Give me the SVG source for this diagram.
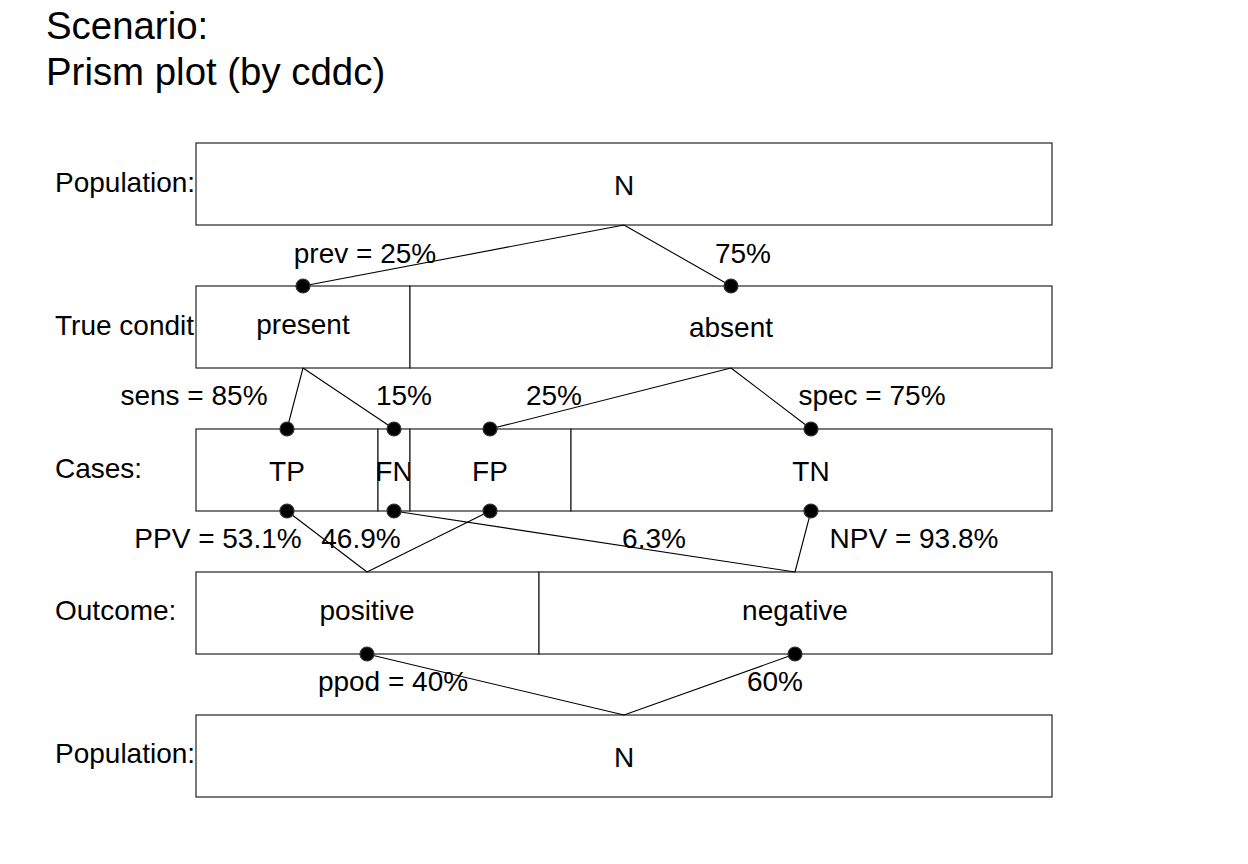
<svg xmlns="http://www.w3.org/2000/svg" width="1248" height="864" viewBox="0 0 1248 864">
<style>
text{font-family:"Liberation Sans",Arial,Helvetica,sans-serif;fill:#000}
.t{font-size:38.4px}
.l{font-size:28px}
.c{text-anchor:middle}
.box{fill:#fff;stroke:#222;stroke-width:1.2}
.ln{stroke:#000;stroke-width:1.1;fill:none}
.dot{fill:#000;stroke:#333;stroke-width:1.2}
</style>
<rect width="1248" height="864" fill="#fff"/>
<g id="title">
<text class="t" x="46" y="39">Scenario:</text>
<text class="t" x="46" y="85">Prism plot (by cddc)</text>
</g>
<g id="row-labels">
<text class="l" x="55" y="192">Population:</text>
<text class="l" x="55" y="335">True condit</text>
<text class="l" x="55" y="478">Cases:</text>
<text class="l" x="55" y="620">Outcome:</text>
<text class="l" x="55" y="763">Population:</text>
</g>
<g id="population-top">
<rect class="box" x="196" y="143" width="856" height="82"/>
<text class="l c" x="624" y="195">N</text>
</g>
<g id="present">
<rect class="box" x="196" y="286" width="214" height="82"/>
<text class="l c" x="303" y="334">present</text>
</g>
<g id="absent">
<rect class="box" x="410" y="286" width="642" height="82"/>
<text class="l c" x="731" y="337">absent</text>
</g>
<g id="TP">
<rect class="box" x="196" y="429" width="182" height="82"/>
<text class="l c" x="287" y="481">TP</text>
</g>
<g id="FN">
<rect class="box" x="378" y="429" width="32" height="82"/>
<text class="l c" x="394" y="481">FN</text>
</g>
<g id="FP">
<rect class="box" x="410" y="429" width="161" height="82"/>
<text class="l c" x="490" y="481">FP</text>
</g>
<g id="TN">
<rect class="box" x="571" y="429" width="481" height="82"/>
<text class="l c" x="811" y="481">TN</text>
</g>
<g id="positive">
<rect class="box" x="196" y="572" width="343" height="82"/>
<text class="l c" x="367" y="620">positive</text>
</g>
<g id="negative">
<rect class="box" x="539" y="572" width="513" height="82"/>
<text class="l c" x="795" y="620">negative</text>
</g>
<g id="population-bottom">
<rect class="box" x="196" y="715" width="856" height="82"/>
<text class="l c" x="624" y="767">N</text>
</g>
<g id="connectors">
<path class="ln" d="M624 225L303 286M624 225L731 286"/>
<path class="ln" d="M303 368L287 429M303 368L394 429M731 368L490 429M731 368L811 429"/>
<path class="ln" d="M287 511L367 572M490 511L367 572M394 511L795 572M811 511L795 572"/>
<path class="ln" d="M367 654L624 715M795 654L624 715"/>
<circle class="dot" cx="303" cy="286" r="7"/>
<circle class="dot" cx="731" cy="286" r="7"/>
<circle class="dot" cx="287" cy="429" r="7"/>
<circle class="dot" cx="394" cy="429" r="7"/>
<circle class="dot" cx="490" cy="429" r="7"/>
<circle class="dot" cx="811" cy="429" r="7"/>
<circle class="dot" cx="287" cy="511" r="7"/>
<circle class="dot" cx="394" cy="511" r="7"/>
<circle class="dot" cx="490" cy="511" r="7"/>
<circle class="dot" cx="811" cy="511" r="7"/>
<circle class="dot" cx="367" cy="654" r="7"/>
<circle class="dot" cx="795" cy="654" r="7"/>
</g>
<g id="edge-labels">
<text class="l c" x="365" y="263">prev = 25%</text>
<text class="l c" x="743" y="263">75%</text>
<text class="l c" x="194" y="405">sens = 85%</text>
<text class="l c" x="404" y="405">15%</text>
<text class="l c" x="554" y="405">25%</text>
<text class="l c" x="872" y="405">spec = 75%</text>
<text class="l c" x="218" y="548">PPV = 53.1%</text>
<text class="l c" x="361" y="548">46.9%</text>
<text class="l c" x="654" y="548">6.3%</text>
<text class="l c" x="914" y="548">NPV = 93.8%</text>
<text class="l c" x="393" y="691">ppod = 40%</text>
<text class="l c" x="775" y="691">60%</text>
</g>
</svg>
